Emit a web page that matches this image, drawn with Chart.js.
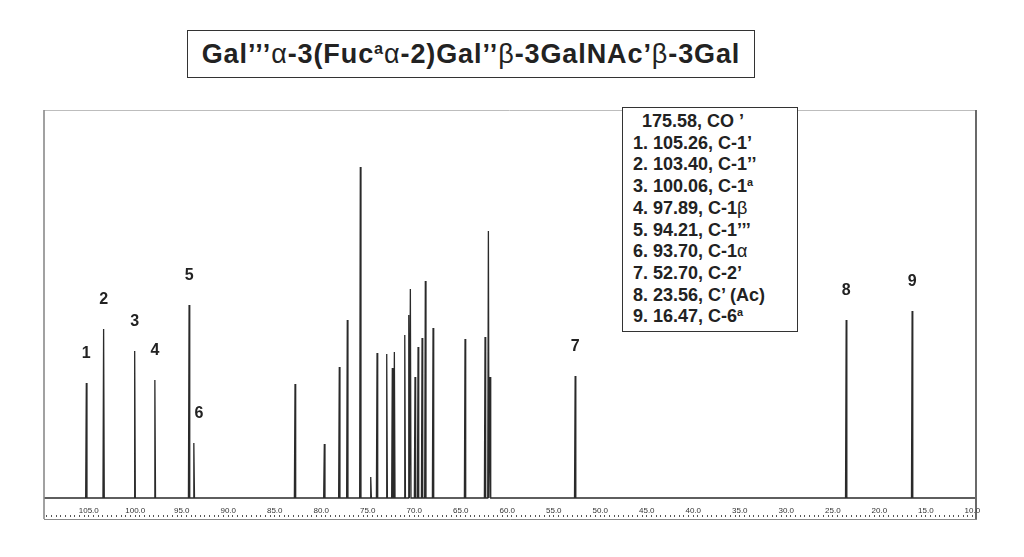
<!DOCTYPE html>
<html>
<head>
<meta charset="utf-8">
<script src="https://cdn.jsdelivr.net/npm/chart.js@4.4.0/dist/chart.umd.min.js"></script>
<style>
  body { margin: 0; background: #fff; font-family: "Liberation Sans", Arial, sans-serif; }
  #wrap { position: relative; width: 1024px; height: 557px; }
  #spectrum { position: absolute; left: 0; top: 0; }
  .title {
    position: absolute; left: 187px; top: 30px; width: 566px; height: 46px;
    border: 1.5px solid #333; box-sizing: content-box;
    font-weight: bold; font-size: 27px; line-height: 46px; color: #222;
    letter-spacing: 0.9px; text-align: center; white-space: nowrap; background: #fff;
  }
  .title .gr { font-weight: normal; }
  sup { font-size: 0.6em; vertical-align: 0.55em; line-height: 0; }
  .assign {
    position: absolute; left: 622px; top: 107px; width: 174px; height: 220px;
    border: 1.5px solid #333; background: #fff; color: #222;
    font-weight: bold; font-size: 18px; line-height: 21.7px;
    padding-top: 3px; white-space: nowrap;
  }
  .assign div { padding-left: 10px; }
  .assign div.co { padding-left: 19px; }
  .assign .gr { font-weight: normal; }
</style>
</head>
<body>
<div id="wrap">
  <canvas id="spectrum" width="1024" height="557"></canvas>
  <div class="title">Gal’’’<span class="gr">α</span>-3(Fuc<sup>a</sup><span class="gr">α</span>-2)Gal’’<span class="gr">β</span>-3GalNAc’<span class="gr">β</span>-3Gal</div>
  <div class="assign" id="assign"></div>
</div>
<script>
// 13C shifts (ppm) and peak heights
const peakPpm = [105.26, 103.40, 100.06, 97.89, 94.21, 93.70, 82.82, 79.67, 78.06, 77.20,
  75.80, 74.68, 74.00, 72.96, 72.36, 72.14, 71.02, 70.59, 70.42, 69.92, 69.59, 69.16,
  68.81, 67.98, 64.54, 62.39, 62.03, 61.85, 52.70, 23.56, 16.47];
const peakHeight = [115, 169, 147, 118, 193, 55, 114, 54, 131, 178,
  331, 21, 145, 144, 130, 146, 163, 183, 209, 121, 151, 160,
  217, 170, 159, 161, 267, 121, 122, 178, 187];

// numbered peaks
const labelNames = ['1', '2', '3', '4', '5', '6', '7', '8', '9'];
const labelPpm = [105.26, 103.40, 100.06, 97.89, 94.21, 93.70, 52.70, 23.56, 16.47];

// axis
const tickValues = [105, 100, 95, 90, 85, 80, 75, 70, 65, 60, 55, 50, 45, 40, 35, 30, 25, 20, 15, 10];
const ppmMax = 109.81;
const ppmMin = 9.71;

// assignment box
const assignLines = [
  '175.58, CO ’',
  '1. 105.26, C-1’',
  '2. 103.40, C-1’’',
  '3. 100.06, C-1<sup>a</sup>',
  '4. 97.89, C-1<span class="gr">β</span>',
  '5. 94.21, C-1’’’',
  '6. 93.70, C-1<span class="gr">α</span>',
  '7. 52.70, C-2’',
  '8. 23.56, C’ (Ac)',
  '9. 16.47, C-6<sup>a</sup>'
];

document.getElementById('assign').innerHTML = assignLines
  .map((t, i) => '<div' + (i === 0 ? ' class="co"' : '') + '>' + t + '</div>').join('');

// spectrum trace: baseline with a narrow spike per line
const half = 0.07;
const order = peakPpm.map((p, i) => i).sort((a, b) => peakPpm[b] - peakPpm[a]);
const trace = [{ x: ppmMax, y: 0 }];
order.forEach(i => {
  trace.push({ x: peakPpm[i] + half, y: 0 });
  trace.push({ x: peakPpm[i], y: peakHeight[i] });
  trace.push({ x: peakPpm[i] - half, y: 0 });
});
trace.push({ x: ppmMin, y: 0 });

const minorTicks = [];
for (let v = 109.5; v >= 10; v -= 0.5) minorTicks.push({ value: v });

const framePlugin = {
  id: 'frame',
  afterDraw(chart) {
    const { ctx, chartArea: a } = chart;
    const bottom = 519;
    ctx.save();
    ctx.lineWidth = 1;
    ctx.strokeStyle = '#bdbdbd';
    ctx.beginPath(); ctx.moveTo(a.left, a.top + 0.5); ctx.lineTo(a.right, a.top + 0.5); ctx.stroke();
    ctx.strokeStyle = '#8a8a8a';
    ctx.beginPath(); ctx.moveTo(a.left, bottom + 0.5); ctx.lineTo(a.right + 2, bottom + 0.5); ctx.stroke();
    ctx.lineWidth = 1.6;
    ctx.beginPath(); ctx.moveTo(a.left, a.top); ctx.lineTo(a.left, bottom); ctx.stroke();
    ctx.strokeStyle = '#444';
    ctx.beginPath(); ctx.moveTo(a.right + 1, a.top); ctx.lineTo(a.right + 1, bottom); ctx.stroke();

    // peak numbers
    const xs = chart.scales.x, ys = chart.scales.y;
    ctx.fillStyle = '#222';
    ctx.font = 'bold 16px "Liberation Sans", Arial, sans-serif';
    ctx.textAlign = 'center';
    ctx.textBaseline = 'middle';
    labelPpm.forEach((p, k) => {
      const h = peakHeight[peakPpm.indexOf(p)];
      const dx = labelNames[k] === '6' ? 5 : 0;
      ctx.fillText(labelNames[k], xs.getPixelForValue(p) + dx, ys.getPixelForValue(h) - 29);
    });
    ctx.restore();
  }
};

new Chart(document.getElementById('spectrum'), {
  type: 'line',
  data: {
    datasets: [{
      data: trace,
      borderColor: '#2a2a2a',
      borderWidth: 1.3,
      pointRadius: 0,
      tension: 0,
      fill: false
    }]
  },
  options: {
    responsive: false,
    animation: false,
    layout: { padding: { left: 44, right: 49, top: 110, bottom: 36 } },
    plugins: { legend: { display: false }, tooltip: { enabled: false } },
    scales: {
      x: {
        type: 'linear', reverse: true, min: ppmMin, max: ppmMax, position: 'bottom',
        afterBuildTicks: s => { s.ticks = tickValues.map(v => ({ value: v })); },
        afterFit: s => { s.height = 12; },
        ticks: {
          callback: v => v.toFixed(1),
          font: { size: 8, family: '"Liberation Sans", Arial, sans-serif' },
          color: '#333', padding: 3, maxRotation: 0, autoSkip: false
        },
        grid: { display: false, drawTicks: false },
        border: { display: false }
      },
      x2: {
        type: 'linear', reverse: true, min: ppmMin, max: ppmMax, position: 'bottom',
        afterBuildTicks: s => { s.ticks = minorTicks; },
        afterFit: s => { s.height = 6; },
        ticks: { display: false },
        grid: { drawOnChartArea: false, tickLength: 2, color: '#555', lineWidth: 1 },
        border: { display: false }
      },
      y: { display: false, min: -5, max: 388 }
    }
  },
  plugins: [framePlugin]
});
</script>
</body>
</html>
